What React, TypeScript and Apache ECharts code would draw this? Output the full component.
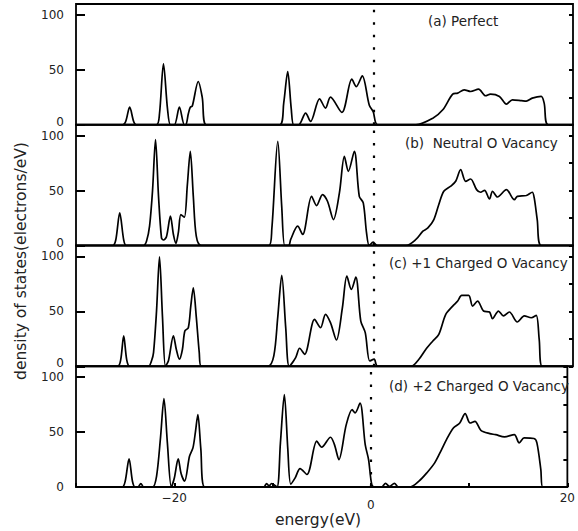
import React, { useEffect, useRef } from "react";
import * as echarts from "echarts";

// Density of states, [energy (eV), DOS (electrons/eV)]
const dosPerfect: [number, number][] = [
  [-30, 0], [-25.3, 0], [-25.0, 3], [-24.6, 16], [-24.2, 3], [-23.95, 0],
  [-21.9, 0], [-21.6, 10], [-21.2, 55.5], [-20.8, 15], [-20.5, 0],
  [-20.1, 0], [-19.6, 16], [-19.1, 0],
  [-18.95, 0], [-18.7, 10], [-18.5, 16], [-18.3, 17], [-17.7, 39.4], [-17.3, 25], [-16.9, 0],
  [-9.5, 0], [-9.1, 20], [-8.7, 48.5], [-8.35, 15], [-8.1, 0],
  [-7.6, 0], [-6.9, 10.6], [-6.4, 3], [-5.5, 23.6], [-4.9, 15.2], [-4.4, 25.2], [-3.25, 11.2],
  [-2.25, 41.5], [-1.8, 34.8], [-1.2, 44.5], [-0.5, 18], [-0.1, 12], [0.35, 0],
  [4.2, 0], [5.9, 6], [6.9, 13.6], [7.9, 27.9], [8.4, 28.8], [9.05, 31.8], [9.7, 30.3],
  [10.5, 32.4], [11.2, 26.4], [11.7, 27.9], [12.6, 25.8], [13.3, 18.8], [13.9, 22.7],
  [14.8, 22], [15.3, 21.5], [15.9, 24.2], [16.8, 25.8], [17.1, 19.7], [17.5, 0], [20, 0],
];

const dosNeutral: [number, number][] = [
  [-30, 0], [-26.3, 0], [-26.0, 5], [-25.6, 29.7], [-25.2, 5], [-24.95, 0],
  [-23.2, 0], [-22.9, 4], [-22.6, 17.6], [-22.3, 50], [-22.0, 96.4], [-21.7, 45], [-21.4, 7],
  [-21.2, 5], [-20.9, 8], [-20.5, 26.7], [-20.2, 10], [-19.95, 2], [-19.7, 12], [-19.45, 28.2],
  [-19.1, 25.8], [-18.8, 55], [-18.5, 85.8], [-18.2, 45], [-17.9, 8.5], [-17.4, 0],
  [-10.6, 0], [-10.3, 15], [-9.7, 94.8], [-9.3, 35], [-9.0, 0],
  [-8.6, 0], [-8.4, 5.5], [-7.7, 17.6], [-7.2, 10], [-6.3, 44.8], [-5.8, 36.4], [-5.2, 46.4],
  [-4.7, 40.3], [-4.1, 23.6], [-3.5, 47.9], [-3.0, 81.2], [-2.6, 67.6], [-2.0, 85.8],
  [-1.5, 44.8], [-1.1, 38.8], [-0.77, 11.5], [-0.5, 0], [-0.1, 3], [0.3, 0],
  [3.2, 0], [4.2, 5.5], [4.9, 13], [5.4, 16], [6.0, 23.6], [6.5, 37.3], [7.0, 49.4], [7.7, 54],
  [8.2, 58.5], [8.7, 69.1], [9.2, 58.5], [9.7, 60.6], [10.3, 50.9], [10.7, 48.5], [11.1, 50.3],
  [11.6, 42.4], [11.9, 49.4], [12.4, 44.2], [13.3, 50.9], [14.1, 41.8], [14.4, 44.8],
  [15.3, 45.5], [15.9, 48.5], [16.1, 43.3], [16.4, 23.6], [16.8, 0], [20, 0],
];

const dosCharged1: [number, number][] = [
  [-30, 0], [-25.8, 0], [-25.5, 6], [-25.2, 27.6], [-24.9, 6], [-24.6, 0],
  [-22.7, 0], [-22.4, 5], [-22.2, 12.4], [-21.9, 50], [-21.6, 99.7], [-21.3, 45], [-21.0, 0],
  [-20.7, 5], [-20.2, 27.6], [-19.9, 15], [-19.6, 6.4], [-19.3, 15], [-19.05, 32.1],
  [-18.7, 35.1], [-18.45, 55], [-18.2, 71.5], [-17.9, 45], [-17.6, 12.4], [-17.4, 0],
  [-10.7, 0], [-10.1, 9.4], [-9.7, 45], [-9.3, 82.7], [-8.9, 35], [-8.55, 0],
  [-7.9, 7.9], [-7.5, 16.4], [-7.0, 10.9], [-6.0, 42.7], [-5.4, 35.1], [-4.9, 47.3],
  [-4.4, 39.7], [-3.8, 23.9], [-3.2, 53.3], [-2.75, 82.1], [-2.3, 70], [-1.85, 81.2],
  [-1.35, 41.2], [-0.9, 30.6], [-0.45, 4.8], [0, 6.4], [0.33, 0],
  [3.7, 0], [4.5, 6.4], [5.2, 15.5], [5.9, 23], [6.5, 29.1], [7.2, 47.3], [7.9, 54.8],
  [8.4, 59.4], [8.8, 64.5], [9.5, 64.5], [9.9, 54.8], [10.4, 59.4], [11.0, 50.3], [11.6, 49.4],
  [11.9, 43.3], [12.5, 50.3], [13.0, 45.8], [13.6, 49.4], [14.4, 40.3], [15.1, 45.8],
  [15.8, 44.2], [16.3, 46.4], [16.6, 24.5], [16.9, 0], [20, 0],
];

const dosCharged2: [number, number][] = [
  [-30, 0], [-25.3, 0], [-25.0, 5], [-24.6, 25.6], [-24.25, 5], [-24.0, 0],
  [-23.7, 0], [-23.4, 3.2], [-23.1, 0],
  [-22.2, 0], [-21.8, 10], [-21.4, 45], [-21.05, 80.5], [-20.7, 40], [-20.3, 0], [-20.0, 8],
  [-19.6, 25.6], [-19.3, 12], [-18.95, 5.3], [-18.45, 28], [-18.1, 35.6], [-17.85, 50],
  [-17.6, 65.9], [-17.3, 35], [-16.9, 0],
  [-10.9, 0], [-10.6, 3.2], [-10.35, 1], [-10.1, 3.2], [-9.55, 0], [-9.2, 40], [-8.8, 84.1],
  [-8.45, 35], [-8.15, 2.7], [-7.7, 8.3], [-7.2, 16.8], [-6.5, 11.4], [-5.5, 41.7],
  [-5.0, 36.2], [-4.1, 45.3], [-3.7, 38.6], [-3.25, 25], [-2.5, 56.8], [-1.9, 70.5],
  [-1.6, 67.5], [-1.1, 76.5], [-0.57, 38.6], [-0.23, 25], [0.1, 2], [0.4, 0],
  [1.1, 0], [1.5, 3.3], [1.9, 0.5], [2.4, 3.3], [2.8, 0],
  [4.0, 0], [4.9, 5.3], [5.7, 12.9], [6.5, 22], [7.2, 34.1], [7.7, 43.2], [8.4, 53.8],
  [9.05, 58.3], [9.6, 66.8], [10.1, 58.3], [10.6, 59.8], [11.2, 51.6], [12.1, 48.6],
  [12.7, 47.7], [13.6, 45.6], [14.6, 47.7], [15.1, 40.2], [15.6, 44.7], [16.6, 44.2],
  [16.9, 40.2], [17.3, 15.9], [17.5, 0], [20, 0],
];

const panelLabels = [
  "(a) Perfect",
  "(b)  Neutral O Vacancy",
  "(c) +1 Charged O Vacancy",
  "(d) +2 Charged O Vacancy",
];
const panelData = [dosPerfect, dosNeutral, dosCharged1, dosCharged2];
const xTickLabels = [-20, 0, 20];
const yTickLabels = [0, 50, 100];

const FONT = "DejaVu Sans";
const TXT = "#222";

export default function App() {
  const ref = useRef<HTMLDivElement>(null);
  useEffect(() => {
    if (!ref.current) return;
    const chart = echarts.init(ref.current, undefined, { renderer: "svg" });
    const gridTop = 4;
    const gridH = 120.75;
    const left = 76;
    const last = panelData.length - 1;
    const grids = panelData.map((_, i) => ({
      left,
      right: 5,
      top: gridTop + i * gridH,
      height: gridH,
      show: true,
      borderColor: "#000",
      borderWidth: 1.8,
      backgroundColor: "transparent",
    }));
    const xAxes = panelData.map((_, i) => {
      const bottom = i === last;
      return {
        type: "value",
        gridIndex: i,
        min: -30,
        max: 20,
        interval: 10,
        splitLine: { show: false },
        axisLine: { show: false, onZero: false },
        axisTick: {
          show: bottom,
          inside: true,
          length: 4,
          lineStyle: { color: "#000", width: 2 },
        },
        axisLabel: {
          show: bottom,
          margin: 5,
          fontFamily: FONT,
          fontSize: 12,
          color: TXT,
          formatter: (v: number) => {
            if (!xTickLabels.includes(v)) return "";
            if (v === 0) return "{z|0}";
            return v < 0 ? "\u2212" + Math.abs(v) : String(v);
          },
          rich: { z: { padding: [7, 0, 0, 0], fontFamily: FONT, fontSize: 12, color: TXT } },
        },
      };
    });
    const yAxes: any[] = [];
    panelData.forEach((_, i) => {
      const bottom = i === last;
      yAxes.push({
        type: "value",
        gridIndex: i,
        min: 0,
        max: 110,
        interval: 50,
        splitLine: { show: false },
        axisLine: { show: false, onZero: false },
        axisTick: { show: true, inside: true, length: 9, lineStyle: { color: "#000", width: 2 } },
        axisLabel: {
          margin: 12,
          fontFamily: FONT,
          fontSize: 12,
          lineHeight: 12,
          color: TXT,
          formatter: (v: number) => {
            if (!yTickLabels.includes(v)) return "";
            if (v === 0 && !bottom) return "{z|0}";
            return String(v);
          },
          rich: { z: { padding: [0, 0, 6, 0], fontFamily: FONT, fontSize: 12, lineHeight: 12, color: TXT } },
        },
      });
      yAxes.push({
        type: "value",
        gridIndex: i,
        min: 0,
        max: 110,
        interval: 25,
        splitLine: { show: false },
        axisLine: { show: false, onZero: false },
        axisTick: { show: true, inside: true, length: 4, lineStyle: { color: "#000", width: 2 } },
        axisLabel: { show: false },
      });
    });
    const series = panelData.map((d, i) => ({
      type: "line",
      xAxisIndex: i,
      yAxisIndex: i * 2,
      data: d,
      showSymbol: false,
      smooth: 0.3,
      lineStyle: { color: "#000", width: 1.7 },
      markLine: {
        silent: true,
        symbol: ["none", "none"],
        label: { show: false },
        lineStyle: { color: "#000", type: [2.5, 10], width: 2.2 },
        data: [{ xAxis: 0 }],
      },
    }));
    const labelTops = [21, 143, 263, 386];
    const labelLefts = [428, 405, 389, 389];
    const graphic: any[] = panelLabels.map((t, i) => ({
      type: "text",
      x: labelLefts[i],
      y: labelTops[i],
      style: {
        text: t,
        font: `13.5px "${FONT}"`,
        fill: TXT,
        textVerticalAlign: "middle",
      },
    }));
    graphic.push({
      type: "text",
      x: 318,
      y: 520,
      style: {
        text: "energy(eV)",
        font: `15.5px "${FONT}"`,
        fill: TXT,
        textAlign: "center",
        textVerticalAlign: "middle",
      },
    });
    graphic.push({
      type: "text",
      x: 21,
      y: 261,
      rotation: Math.PI / 2,
      style: {
        text: "density of states(electrons/eV)",
        font: `15.5px "${FONT}"`,
        fill: TXT,
        textAlign: "center",
        textVerticalAlign: "middle",
      },
    });
    chart.setOption({
      animation: false,
      backgroundColor: "#fff",
      textStyle: { fontFamily: FONT },
      grid: grids,
      xAxis: xAxes,
      yAxis: yAxes,
      series,
      graphic,
    });
    return () => chart.dispose();
  }, []);
  return <div ref={ref} style={{ width: 578, height: 531, position: "absolute", left: 0, top: 0 }} />;
}
